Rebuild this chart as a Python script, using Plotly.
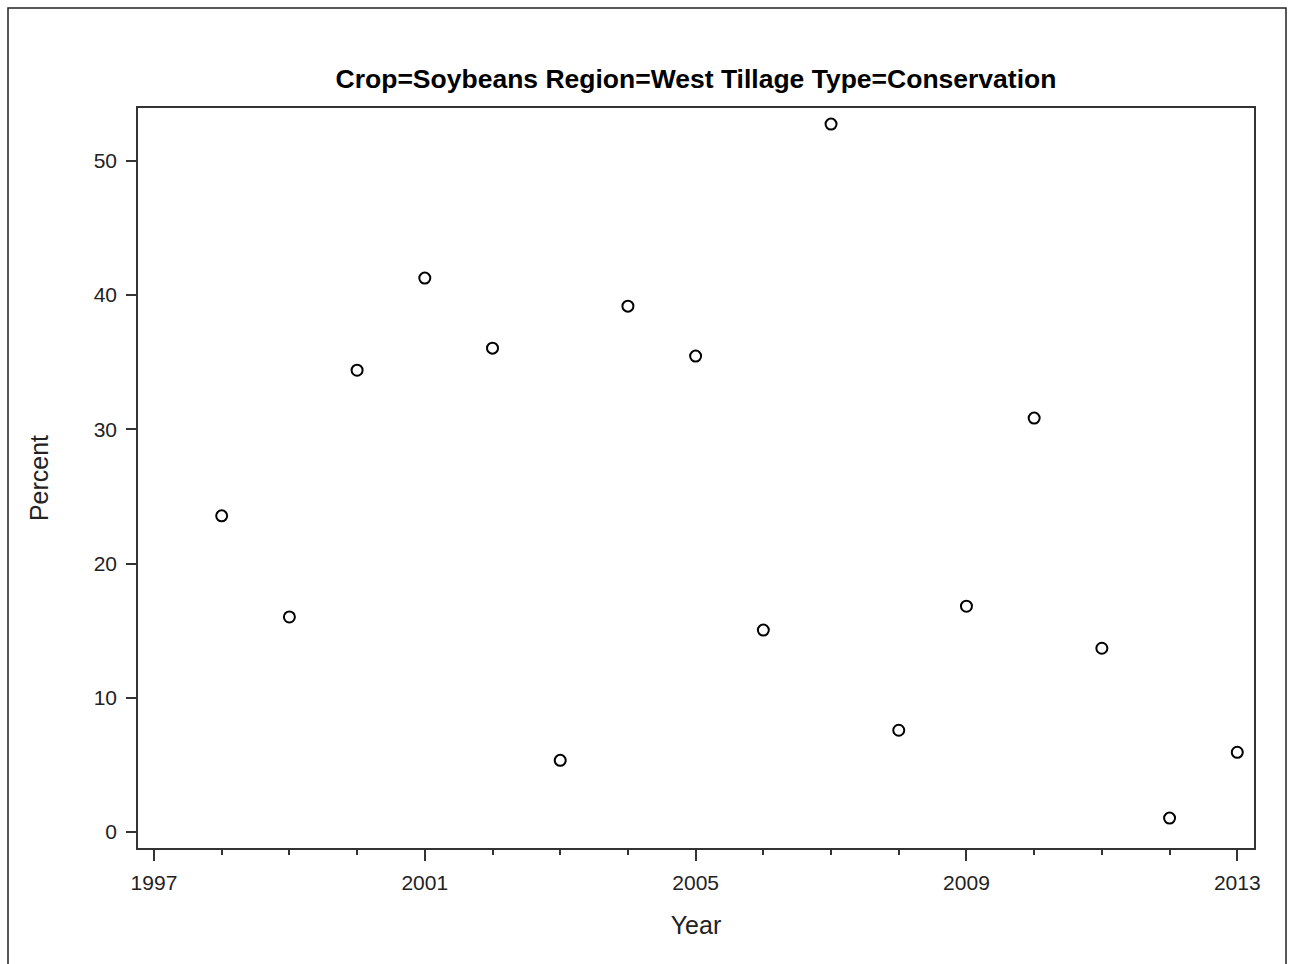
import plotly.graph_objects as go

# Percent of soybean acreage under conservation tillage, West region
years = [1998, 1999, 2000, 2001, 2002, 2003, 2004, 2005,
         2006, 2007, 2008, 2009, 2010, 2011, 2012, 2013]
percent = [23.55, 16.02, 34.40, 41.26, 36.04, 5.34, 39.17, 35.45,
           15.04, 52.73, 7.58, 16.82, 30.83, 13.69, 1.04, 5.94]

x_ticks = [1997, 2001, 2005, 2009, 2013]
y_ticks = [0, 10, 20, 30, 40, 50]

title_text = "Crop=Soybeans Region=West Tillage Type=Conservation"

FONT = "Liberation Sans, Arial, sans-serif"
AXIS_COLOR = "#333333"
TEXT_COLOR = "#222222"

fig = go.Figure()
fig.add_trace(go.Scatter(
    x=years,
    y=percent,
    mode="markers",
    marker=dict(symbol="circle-open", size=11, color="#000000",
                line=dict(width=2, color="#000000")),
    showlegend=False,
))

fig.update_layout(
    width=1289,
    height=964,
    margin=dict(l=138, r=35, t=108, b=116),
    paper_bgcolor="white",
    plot_bgcolor="white",
    font=dict(family=FONT, color=TEXT_COLOR),
    title=dict(
        text=title_text,
        font=dict(family=FONT, size=26.5, color="#000000", weight="bold"),
        x=0.5, xref="paper", xanchor="center",
        y=1 - 79 / 964, yref="container", yanchor="middle",
    ),
    xaxis=dict(
        range=[1996.764, 2013.247],
        tickmode="array",
        tickvals=x_ticks,
        ticktext=[str(v) for v in x_ticks],
        ticks="outside",
        ticklen=11,
        tickwidth=1.5,
        tickcolor=AXIS_COLOR,
        ticklabelstandoff=4,
        minor=dict(dtick=1, tick0=1997, ticks="outside", ticklen=5,
                   tickwidth=1.5, tickcolor=AXIS_COLOR, showgrid=False),
        tickfont=dict(family=FONT, size=21, color=TEXT_COLOR),
        showline=True, linewidth=1.5, linecolor=AXIS_COLOR, mirror=True,
        showgrid=False, zeroline=False,
        title=dict(text="Year", font=dict(family=FONT, size=25, color=TEXT_COLOR),
                   standoff=24),
    ),
    yaxis=dict(
        range=[-1.19, 53.93],
        tickmode="array",
        tickvals=y_ticks,
        ticks="outside",
        ticklen=10,
        tickwidth=1.5,
        tickcolor=AXIS_COLOR,
        ticklabelstandoff=5,
        tickfont=dict(family=FONT, size=21, color=TEXT_COLOR),
        showline=True, linewidth=1.5, linecolor=AXIS_COLOR, mirror=True,
        showgrid=False, zeroline=False,
        title=dict(text="Percent", font=dict(family=FONT, size=25, color=TEXT_COLOR),
                   standoff=38),
    ),
)

# Border around the whole graphic
fig.add_shape(
    type="rect", xref="paper", yref="paper",
    x0=(8 - 138) / 1116, x1=(1286 - 138) / 1116,
    y0=(848 - 975) / 740, y1=(848 - 8) / 740,
    line=dict(color="#222222", width=1.5),
    fillcolor="rgba(0,0,0,0)",
    layer="below",
)

fig.write_html("out.html")
